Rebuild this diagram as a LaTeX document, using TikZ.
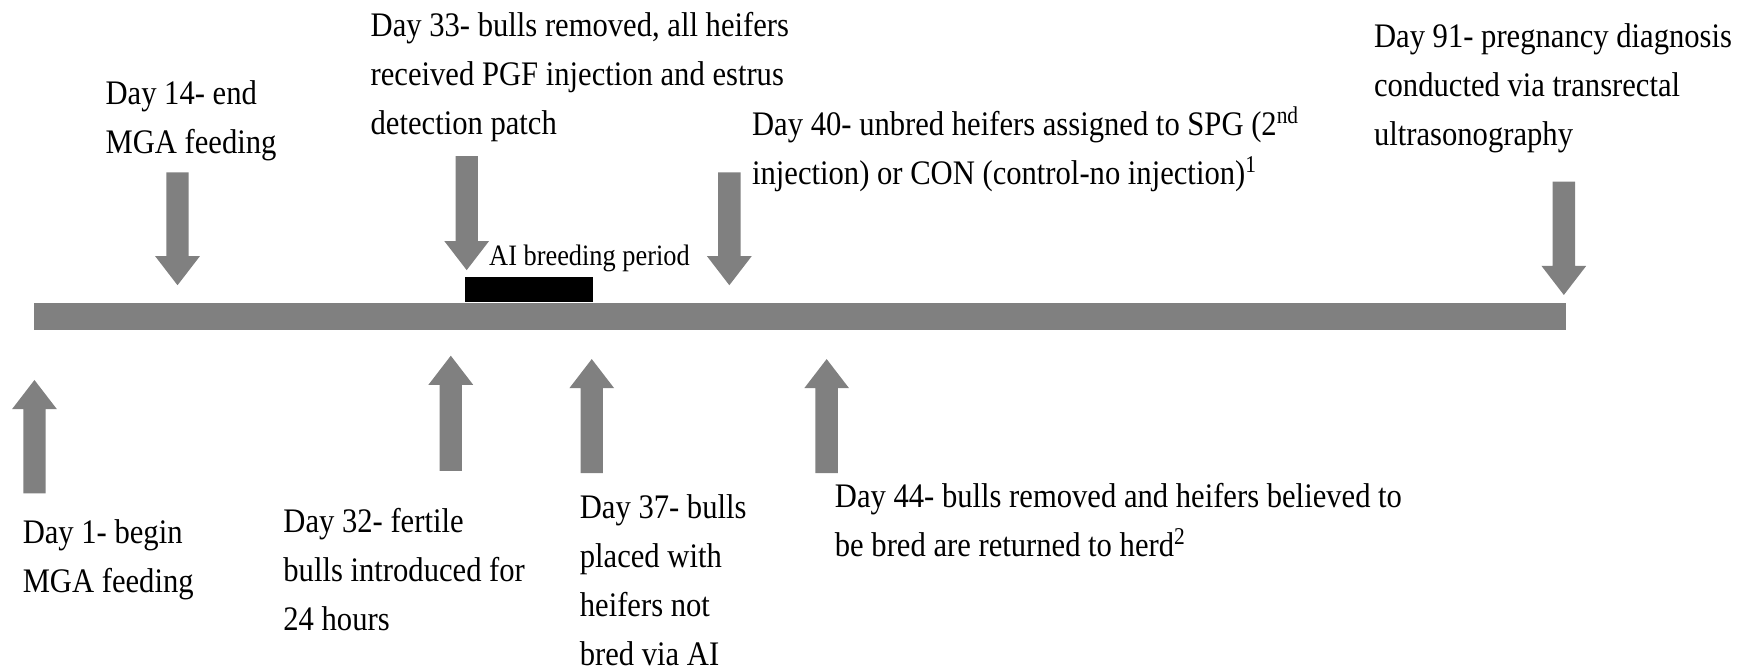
\documentclass[tikz,border=0pt]{standalone}
\usepackage{fontspec}
\setmainfont{Liberation Serif}
\newfontfamily\condserif[FakeStretch=0.89]{Liberation Serif}
\usetikzlibrary{positioning}
\definecolor{bargray}{RGB}{128,128,128}

%% arrow pointing down: x, top of shaft, tip
\newcommand{\evdown}[3]{%
  \fill[bargray] (#1-10,#2) -- (#1+10,#2) -- (#1+10,#3-26) -- (#1+20,#3-26)
    -- (#1,#3) -- (#1-20,#3-26) -- (#1-10,#3-26) -- cycle;}
%% arrow pointing up: x, tip, bottom of shaft
\newcommand{\evup}[3]{%
  \fill[bargray] (#1-10,#3) -- (#1+10,#3) -- (#1+10,#2+26) -- (#1+20,#2+26)
    -- (#1,#2) -- (#1-20,#2+26) -- (#1-10,#2+26) -- cycle;}

\begin{document}
\begin{tikzpicture}[x=0.5593pt,y=-0.5593pt,
  evlabel/.style={anchor=north west, inner sep=0pt, align=left,
    font=\condserif\fontsize{17.2}{24.4}\selectfont},
  perlabel/.style={anchor=base west, inner sep=0pt,
    font=\condserif\fontsize{14.8}{16}\selectfont}]
\useasboundingbox (0,0) rectangle (1568,600);

%% time line
\fill[bargray] (30,271) rectangle (1400,295);
\fill[black] (416,248) rectangle (530,270);   %% AI breeding
\node[perlabel] (aiper) at (437,237) {AI breeding period};

%% events above the line
\evdown{158.7}{154}{255}     %% day 14
\evdown{417.2}{139.5}{241.5} %% day 33
\evdown{652}{154}{255}       %% day 40
\evdown{1398}{162.4}{263.7}  %% day 91

%% events below the line
\evup{30.8}{339.7}{441}      %% day 1
\evup{403}{318}{421}         %% day 32
\evup{529}{321}{423}         %% day 37
\evup{739}{321}{423}         %% day 44

%% labels
\node[evlabel] (d14) at (94,72) {Day 14- end\\MGA feeding};
\node[evlabel] (d33) at (331,11) {Day 33- bulls removed, all heifers\\received PGF injection and estrus\\detection patch};
\node[evlabel] (d40) at (672,95) {Day 40- unbred heifers assigned to SPG (2\textsuperscript{nd}\\injection) or CON (control-no injection)\textsuperscript{1}};
\node[evlabel] (d91) at (1228,21) {Day 91- pregnancy diagnosis\\conducted via transrectal\\ultrasonography};
\node[evlabel] (d1) at (20,464) {Day 1- begin\\MGA feeding};
\node[evlabel] (d32) at (253,454) {Day 32- fertile\\bulls introduced for\\24 hours};
\node[evlabel] (d37) at (518,442) {Day 37- bulls\\placed with\\heifers not\\bred via AI};
\node[evlabel] (d44) at (746,432) {Day 44- bulls removed and heifers believed to\\be bred are returned to herd\textsuperscript{2}};
\end{tikzpicture}
\end{document}
